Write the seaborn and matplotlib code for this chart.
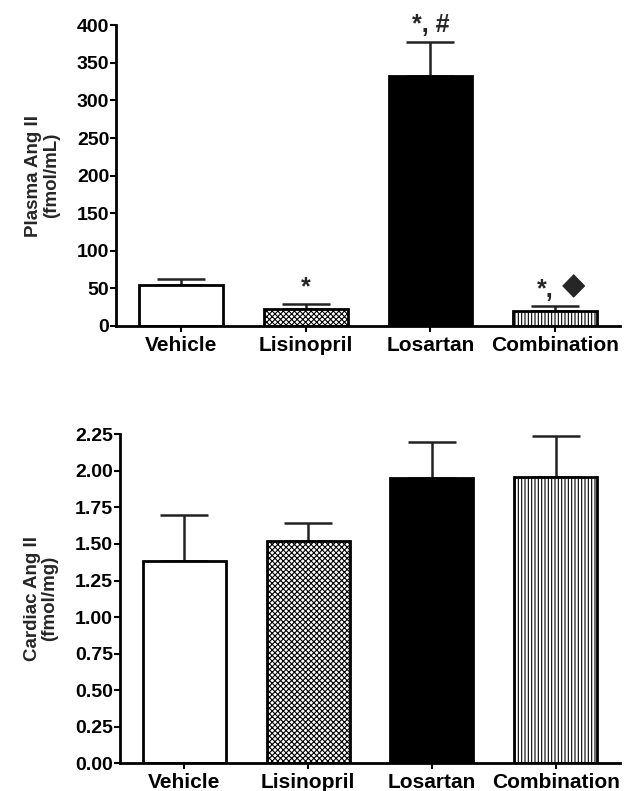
import matplotlib
matplotlib.use("Agg")
import matplotlib.pyplot as plt
import seaborn as sns
import pandas as pd

groups = ["Vehicle", "Lisinopril", "Losartan", "Combination"]
plasma_mean = [54, 23, 332, 20]
plasma_err = [8, 6, 46, 6]
plasma_sig = ["", "*", "*, #", "*, \u25C6"]
cardiac_mean = [1.38, 1.52, 1.95, 1.96]
cardiac_err = [0.32, 0.12, 0.25, 0.28]

sns.set_theme(style="ticks")
plt.rcParams["font.family"] = ["Liberation Sans", "DejaVu Sans"]
plt.rcParams["font.weight"] = "bold"
plt.rcParams["hatch.linewidth"] = 0.8

fig = plt.figure(figsize=(6.25, 7.91), dpi=100)
ax1 = fig.add_axes([0.186, 0.588, 0.806, 0.380])
ax2 = fig.add_axes([0.192, 0.035, 0.800, 0.416])

faces = ["white", "white", "black", "white"]
hatches = [None, "xxxxxx", None, "|||||"]


def draw(ax, means, errs, ylim, yticks, fmt, ylabel):
    df = pd.DataFrame({"group": groups, "value": means})
    sns.barplot(data=df, x="group", y="value", ax=ax, width=0.67,
                errorbar=None, color="white", zorder=2)
    for p, fc, h in zip(ax.patches, faces, hatches):
        p.set_facecolor(fc)
        p.set_edgecolor("black")
        p.set_linewidth(2)
        if h:
            p.set_hatch(h)
    ax.errorbar(range(len(groups)), means, yerr=[[0] * len(errs), errs],
                fmt="none", ecolor="#222222", elinewidth=1.8, capsize=17,
                capthick=1.8, zorder=1)
    ax.set_xlim(-0.52, 3.52)
    ax.set_ylim(*ylim)
    ax.set_yticks(yticks)
    ax.set_yticklabels([fmt.format(v) for v in yticks], fontsize=14,
                       fontweight="bold")
    ax.set_xticks(range(len(groups)))
    ax.set_xticklabels(groups, fontsize=15, fontweight="bold")
    ax.set_xlabel("")
    ax.set_ylabel(ylabel, fontsize=13.5, fontweight="bold", labelpad=12,
                  linespacing=1.05)
    for s in ["top", "right"]:
        ax.spines[s].set_visible(False)
    for s in ["left", "bottom"]:
        ax.spines[s].set_linewidth(2)
        ax.spines[s].set_color("black")
    ax.tick_params(axis="y", direction="out", length=4, width=1.5, pad=1,
                   colors="black")
    ax.tick_params(axis="x", direction="out", length=4, width=1.5, pad=3,
                   colors="black")


draw(ax1, plasma_mean, plasma_err, (0, 400), list(range(0, 401, 50)), "{:d}",
     "Plasma Ang II\n(fmol/mL)")
draw(ax2, cardiac_mean, cardiac_err, (0, 2.25),
     [0, 0.25, 0.5, 0.75, 1.0, 1.25, 1.5, 1.75, 2.0, 2.25], "{:.2f}",
     "Cardiac Ang II\n(fmol/mg)")

for i, (m, e, s) in enumerate(zip(plasma_mean, plasma_err, plasma_sig)):
    if not s:
        continue
    top = m + e + 6
    if "\u25C6" in s:
        star, mark = s.split(", ")
        ax1.text(i - 0.08, top, star + ",", ha="center", va="bottom",
                 fontsize=18, fontweight="bold", clip_on=False)
        ax1.text(i + 0.15, top + 2, mark, ha="center", va="bottom",
                 fontsize=22, clip_on=False, family="DejaVu Sans")
    else:
        ax1.text(i, top, s, ha="center", va="bottom", fontsize=18,
                 fontweight="bold", clip_on=False)

fig.savefig("out.png", dpi=100)
